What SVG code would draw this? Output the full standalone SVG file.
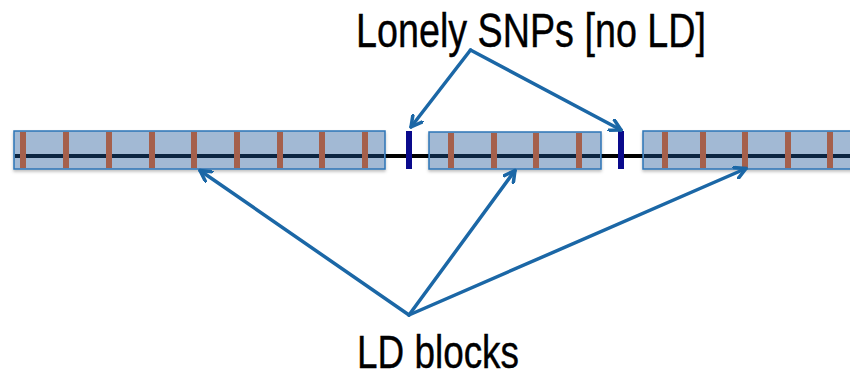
<svg xmlns="http://www.w3.org/2000/svg" width="850" height="378" viewBox="0 0 850 378">
<defs>
<style>
.block{fill:#a2b9d4;stroke:#2e75b6;stroke-width:1.5}
.inner{stroke:#0c2541;stroke-width:4}
.snp{fill:#a5604c}
.lonely{fill:#0a0a8c}
.conn{fill:none;stroke:#1b67a6;stroke-width:3.5;stroke-linecap:round;stroke-linejoin:round}
.label{font-family:"Liberation Sans Narrow","Liberation Sans",Arial,sans-serif;fill:#000;stroke:#000;stroke-width:0.4}
</style>
<filter id="sh" x="-5%" y="-20%" width="110%" height="160%">
<feDropShadow dx="0" dy="2" stdDeviation="1.5" flood-color="#000" flood-opacity="0.25"/>
</filter>
<marker id="ah" viewBox="0 0 14 14" refX="12" refY="7" markerWidth="14" markerHeight="14" markerUnits="userSpaceOnUse" orient="auto">
<path d="M1,1 L12,7 L1,13" fill="none" stroke="#1b67a6" stroke-width="3.5" stroke-linecap="round" stroke-linejoin="round"/>
</marker>
</defs>
<rect width="850" height="378" fill="#fff"/>
<line x1="14" y1="156" x2="850" y2="156" stroke="#000" stroke-width="4"/>
<g id="block1">
<rect class="block" x="14" y="131" width="371" height="38" filter="url(#sh)"/>
<line class="inner" x1="15" y1="156" x2="384" y2="156"/>
<rect class="snp" x="20" y="132" width="6" height="36"/>
<rect class="snp" x="63" y="132" width="6" height="36"/>
<rect class="snp" x="106" y="132" width="6" height="36"/>
<rect class="snp" x="149" y="132" width="6" height="36"/>
<rect class="snp" x="191" y="132" width="6" height="36"/>
<rect class="snp" x="234" y="132" width="6" height="36"/>
<rect class="snp" x="277" y="132" width="6" height="36"/>
<rect class="snp" x="319" y="132" width="6" height="36"/>
<rect class="snp" x="362" y="132" width="6" height="36"/>
</g>
<g id="lonely1"><rect class="lonely" x="406" y="131" width="6" height="38"/></g>
<g id="block2">
<rect class="block" x="429" y="132" width="172" height="37" filter="url(#sh)"/>
<line class="inner" x1="430" y1="156" x2="600" y2="156"/>
<rect class="snp" x="448" y="133" width="6" height="35"/>
<rect class="snp" x="491" y="133" width="6" height="35"/>
<rect class="snp" x="533" y="133" width="6" height="35"/>
<rect class="snp" x="576" y="133" width="6" height="35"/>
</g>
<g id="lonely2"><rect class="lonely" x="618" y="131" width="6" height="38"/></g>
<g id="block3">
<rect class="block" x="643" y="131" width="210" height="38" filter="url(#sh)"/>
<line class="inner" x1="644" y1="156" x2="850" y2="156"/>
<rect class="snp" x="662" y="132" width="6" height="36"/>
<rect class="snp" x="700" y="132" width="6" height="36"/>
<rect class="snp" x="742" y="132" width="6" height="36"/>
<rect class="snp" x="785" y="132" width="6" height="36"/>
<rect class="snp" x="827" y="132" width="6" height="36"/>
</g>
<g id="connectors">
<path class="conn" d="M470.5,50 L411,127" marker-end="url(#ah)"/>
<path class="conn" d="M470.5,50 L621,130" marker-end="url(#ah)"/>
<path class="conn" d="M409,315 L200,170.5" marker-end="url(#ah)"/>
<path class="conn" d="M409,315 L515,170.5" marker-end="url(#ah)"/>
<path class="conn" d="M409,315 L746,168.5" marker-end="url(#ah)"/>
</g>
<g id="label-lonely"><text class="label" x="356" y="47" font-size="48" textLength="350" lengthAdjust="spacingAndGlyphs">Lonely SNPs [no LD]</text></g>
<g id="label-ld"><text class="label" x="357" y="368" font-size="46" textLength="162" lengthAdjust="spacingAndGlyphs">LD blocks</text></g>
</svg>
